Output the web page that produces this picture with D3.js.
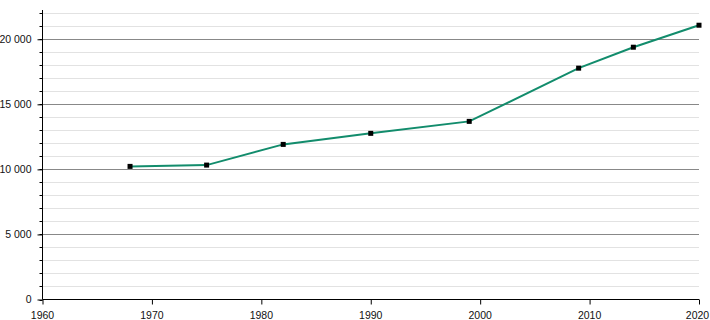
<!DOCTYPE html>
<html><head><meta charset="utf-8">
<script src="https://cdn.jsdelivr.net/npm/d3@7"></script>
<style>body{margin:0;background:#fff}svg{display:block}</style>
</head><body><svg id="c" width="710" height="320"></svg>
<script>
const years = [1968, 1975, 1982, 1990, 1999, 2009, 2014, 2020];
const population = [10230, 10330, 11920, 12770, 13690, 17780, 19390, 21080];
const xTicks = [1960, 1970, 1980, 1990, 2000, 2010, 2020];
const yMajorTicks = [0, 5000, 10000, 15000, 20000];
const yMinorTicks = d3.range(0, 23000, 1000);

const FONT = '"Liberation Sans",Arial,sans-serif';
const svg = d3.select("#c");
const x = d3.scaleLinear().domain([1960, 2020]).range([42.5, 699]);
const y = d3.scaleLinear().domain([0, 22250]).range([299.5, 10]);
const fmt = v => d3.format(",")(v).replace(/,/g, " ");

// minor grid
svg.append("g").selectAll("line").data(yMinorTicks.filter(v => v % 5000 !== 0)).join("line")
  .attr("x1", x(1960)).attr("x2", x(2020)).attr("y1", d => Math.round(y(d)) + 0.5).attr("y2", d => Math.round(y(d)) + 0.5)
  .attr("stroke", "#e2e2e2").attr("stroke-width", 1);
// major grid
svg.append("g").selectAll("line").data(yMajorTicks.filter(v => v > 0)).join("line")
  .attr("x1", x(1960)).attr("x2", x(2020)).attr("y1", d => Math.round(y(d)) + 0.5).attr("y2", d => Math.round(y(d)) + 0.5)
  .attr("stroke", "#888").attr("stroke-width", 1);

// y axis minor ticks
svg.append("g").selectAll("line").data(yMinorTicks).join("line")
  .attr("x1", x(1960) - 3).attr("x2", x(1960)).attr("y1", d => Math.round(y(d)) + 0.5).attr("y2", d => Math.round(y(d)) + 0.5)
  .attr("stroke", "#000");
// y axis major
const yAxis = d3.axisLeft(y).tickValues(yMajorTicks).tickFormat(fmt).tickSize(5).tickPadding(6);
const gy = svg.append("g").attr("transform", `translate(${x(1960)},0)`).call(yAxis);
gy.select(".domain").remove();
gy.selectAll("text").style("font-family", FONT).style("font-size", "10.5px").attr("fill", "#111");
svg.append("line").attr("x1", x(1960)).attr("x2", x(1960)).attr("y1", 10).attr("y2", y(0)).attr("stroke", "#000");

// x axis
const xAxis = d3.axisBottom(x).tickValues(xTicks).tickFormat(d3.format("d")).tickSize(5).tickPadding(7);
const gx = svg.append("g").attr("transform", `translate(0,${y(0)})`).call(xAxis);
gx.select(".domain").attr("d", `M${x(1960)},0H${x(2020)}`);
gx.selectAll("text").style("font-family", FONT).style("font-size", "10.5px").attr("fill", "#111")
  .attr("dx", d => d === 2020 ? -2 : -0.5);

// line
const data = years.map((yr, i) => ({yr, v: population[i]}));
svg.append("path").datum(data)
  .attr("d", d3.line().x(d => x(d.yr)).y(d => y(d.v)))
  .attr("fill", "none").attr("stroke", "#128c6c").attr("stroke-width", 2);
svg.append("g").selectAll("rect").data(data).join("rect")
  .attr("x", d => x(d.yr) - 2.5).attr("y", d => y(d.v) - 2.5).attr("width", 5).attr("height", 5).attr("fill", "#000");
</script></body></html>
